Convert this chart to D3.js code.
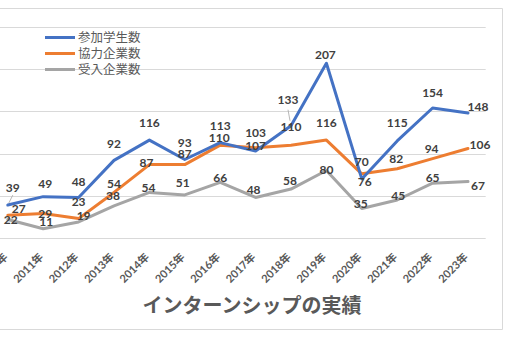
<!DOCTYPE html>
<html><head><meta charset="utf-8">
<script src="https://cdn.jsdelivr.net/npm/d3@7"></script>
<style>body{margin:0;background:#fff}svg{display:block}</style>
</head><body>
<svg id="c" width="510" height="340"></svg>
<script>
const years = ["2010年","2011年","2012年","2013年","2014年","2015年","2016年","2017年","2018年","2019年","2020年","2021年","2022年","2023年"];
const seriesNames = ["参加学生数","協力企業数","受入企業数"];
const students = [39,49,48,92,116,93,113,103,133,207,70,115,154,148];
const partners = [27,29,23,54,87,87,110,107,110,116,76,82,94,106];
const hosts = [22,11,19,38,54,51,66,48,58,80,35,45,65,67];
const yTicks = [0,50,100,150,200,250];
const title = "インターンシップの実績";

// label offsets (layout only)
const offStudents = [[5,-17],[2,-13],[0,-16],[0,-17],[0,-17],[0,-17],[0,-17],[0,-18],[-3,-26],[-1,-9],[0,-17],[0,-18],[0,-15],[10,-6]];
const offPartners = [[11,-7],[2,0],[0,-17],[0,-9],[-3,-2],[0,-11],[-1,-7],[0,-2],[0,-18],[0,-17],[3,8],[-1,-10],[-1,-10],[12,-4]];
const offHosts = [[3,0],[3,-7],[5,-6],[-1,-10],[-1,-5],[-2,-12],[0,-5],[-2,-8],[-1,-8],[0,-1],[-1,-5],[1,-4],[0,-5],[10,4]];

const colors = ["#4472C4","#ED7D31","#A5A5A5"];
const series = [
  {name: seriesNames[0], values: students, off: offStudents, color: colors[0]},
  {name: seriesNames[1], values: partners, off: offPartners, color: colors[1]},
  {name: seriesNames[2], values: hosts, off: offHosts, color: colors[2]}
];

const svg = d3.select("#c");
const x = d3.scaleBand().domain(years).range([-9.9, 485.7]).paddingInner(0).paddingOuter(0);
const cx = d => x(d) + x.bandwidth()/2;
const y = d3.scaleLinear().domain([0,250]).range([238,27]);

// chart border
svg.append("path").attr("d","M0,8.5H502.5V329.5H0").attr("fill","none").attr("stroke","#d9d9d9").attr("stroke-width",1);

// gridlines
svg.append("g").selectAll("line").data(yTicks).join("line")
  .attr("x1",0).attr("x2",485.7)
  .attr("y1",d=>Math.round(y(d))+0.5).attr("y2",d=>Math.round(y(d))+0.5)
  .attr("stroke","#d9d9d9").attr("stroke-width",1);

// x axis labels
const xa = d3.axisBottom(x).tickSize(0).tickPadding(0);
const gx = svg.append("g").attr("transform","translate(0,245)").call(xa);
gx.select(".domain").remove();
gx.selectAll("text")
  .attr("font-family","Lato, 'Noto Sans CJK JP', sans-serif")
  .attr("font-size","11px").attr("font-weight","bold").attr("fill","#595959")
  .attr("text-anchor","end").attr("dy","0.35em").attr("y",0)
  .attr("transform","translate(-2,10) rotate(-45)");

// lines
const line = d3.line().x((d,i)=>cx(years[i])).y(d=>y(d));
series.slice().reverse().forEach(s=>{
  svg.append("path").datum(s.values).attr("d",line)
    .attr("fill","none").attr("stroke",s.color).attr("stroke-width",3)
    .attr("stroke-linejoin","round").attr("stroke-linecap","round");
});

// leader lines
svg.append("line").attr("x1",cx(years[8])-3).attr("y1",y(students[8])-16)
  .attr("x2",cx(years[8])-1).attr("y2",y(students[8])-5).attr("stroke","#a6a6a6").attr("stroke-width",0.8);
svg.append("line").attr("x1",cx(years[0])+5).attr("y1",y(students[0])-10)
  .attr("x2",cx(years[0])+1).attr("y2",y(students[0])-2).attr("stroke","#a6a6a6").attr("stroke-width",0.8);

// data labels
series.forEach(s=>{
  svg.append("g").selectAll("text").data(s.values).join("text")
    .attr("x",(d,i)=>cx(years[i])+s.off[i][0])
    .attr("y",(d,i)=>y(d)+s.off[i][1])
    .attr("dy","0.36em").attr("text-anchor","middle")
    .attr("font-family","Lato, sans-serif").attr("font-size","12px").attr("font-weight","bold")
    .attr("fill","#404040").text(d=>d);
});

// legend
const lg = svg.append("g");
series.forEach((s,i)=>{
  const yy = 37.5 + i*16;
  lg.append("line").attr("x1",45).attr("x2",75).attr("y1",yy).attr("y2",yy)
    .attr("stroke",s.color).attr("stroke-width",3);
  lg.append("text").attr("x",78).attr("y",yy).attr("dy","0.36em")
    .attr("font-family","'Noto Sans CJK JP', sans-serif").attr("font-size","12.5px")
    .attr("fill","#595959").text(s.name);
});

// title
svg.append("text").attr("x",252).attr("y",306).attr("dy","0.36em").attr("text-anchor","middle")
  .attr("font-family","'Noto Sans CJK JP', sans-serif").attr("font-size","20px").attr("font-weight","bold")
  .attr("fill","#595959").text(title);
</script>
</body></html>
